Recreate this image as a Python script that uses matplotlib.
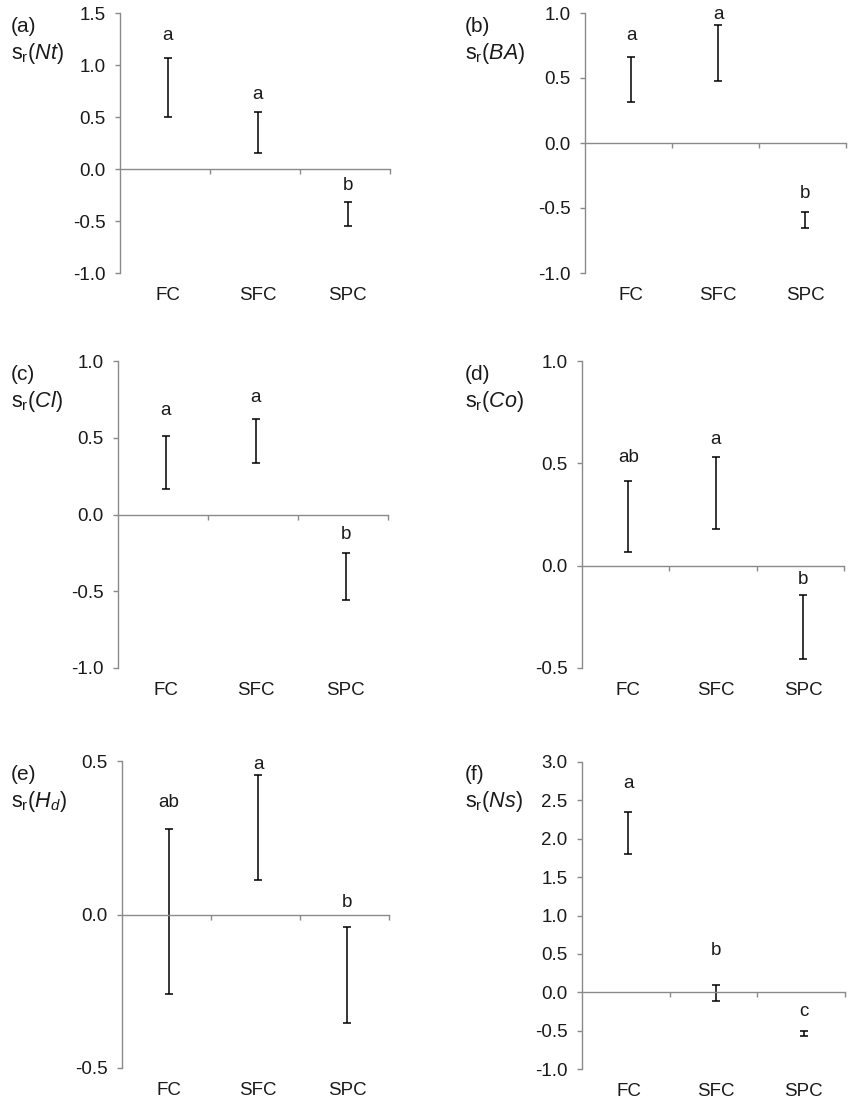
import matplotlib
matplotlib.use('Agg')
import matplotlib.pyplot as plt
import numpy as np

plt.rcParams['font.family'] = ['Liberation Sans', 'DejaVu Sans']
plt.rcParams['mathtext.fontset'] = 'custom'
plt.rcParams['mathtext.rm'] = 'Liberation Sans'
plt.rcParams['mathtext.it'] = 'Liberation Sans:italic'
plt.rcParams['axes.unicode_minus'] = False

# 类别
groups = ['FC', 'SFC', 'SPC']

# 各面板：误差线下限 / 上限，显著性字母及其位置
nt_low = [0.50, 0.15, -0.55]
nt_high = [1.07, 0.55, -0.32]
nt_letters = ['a', 'a', 'b']
nt_letter_y = [1.28, 0.72, -0.16]

ba_low = [0.315, 0.48, -0.65]
ba_high = [0.665, 0.91, -0.53]
ba_letters = ['a', 'a', 'b']
ba_letter_y = [0.83, 0.99, -0.39]

cl_low = [0.167, 0.334, -0.557]
cl_high = [0.51, 0.62, -0.25]
cl_letters = ['a', 'a', 'b']
cl_letter_y = [0.68, 0.76, -0.13]

co_low = [0.068, 0.18, -0.455]
co_high = [0.416, 0.529, -0.142]
co_letters = ['ab', 'a', 'b']
co_letter_y = [0.53, 0.617, -0.07]

hd_low = [-0.259, 0.113, -0.354]
hd_high = [0.28, 0.453, -0.042]
hd_letters = ['ab', 'a', 'b']
hd_letter_y = [0.365, 0.49, 0.04]

ns_low = [1.80, -0.117, -0.564]
ns_high = [2.355, 0.10, -0.50]
ns_letters = ['a', 'b', 'c']
ns_letter_y = [2.72, 0.54, -0.25]

panels = [
    ('(a)', r'$\mathrm{s}_\mathrm{r}\mathrm{(}\mathit{Nt}\mathrm{)}$', nt_low, nt_high, nt_letters, nt_letter_y,
     (-1.0, 1.5), (120, 390, 13, 273)),
    ('(b)', r'$\mathrm{s}_\mathrm{r}\mathrm{(}\mathit{BA}\mathrm{)}$', ba_low, ba_high, ba_letters, ba_letter_y,
     (-1.0, 1.0), (585, 846, 13, 273)),
    ('(c)', r'$\mathrm{s}_\mathrm{r}\mathrm{(}\mathit{Cl}\mathrm{)}$', cl_low, cl_high, cl_letters, cl_letter_y,
     (-1.0, 1.0), (118, 388, 361, 668)),
    ('(d)', r'$\mathrm{s}_\mathrm{r}\mathrm{(}\mathit{Co}\mathrm{)}$', co_low, co_high, co_letters, co_letter_y,
     (-0.5, 1.0), (582, 844, 361, 668)),
    ('(e)', r'$\mathrm{s}_\mathrm{r}\mathrm{(}\mathit{H}_\mathit{d}\mathrm{)}$', hd_low, hd_high, hd_letters, hd_letter_y,
     (-0.5, 0.5), (122, 389, 761, 1068)),
    ('(f)', r'$\mathrm{s}_\mathrm{r}\mathrm{(}\mathit{Ns}\mathrm{)}$', ns_low, ns_high, ns_letters, ns_letter_y,
     (-1.0, 3.0), (582, 845, 762, 1069)),
]

W, H = 849, 1110
fig = plt.figure(figsize=(W / 100, H / 100), dpi=100)
gray = '#8a8a8a'
txt = '#1a1a1a'
fs = 13.5

for tag, name, low, high, letters, letter_y, ylim, box in panels:
    l, r, t, b = box
    ax = fig.add_axes([l / W, 1 - b / H, (r - l) / W, (b - t) / H])
    low = np.array(low)
    high = np.array(high)
    x = np.arange(1, len(groups) + 1)
    mid = (low + high) / 2
    ax.errorbar(x + 0.03, mid, yerr=(high - low) / 2, fmt='none', ecolor='black',
                elinewidth=1.1, capsize=2.6, capthick=1.1)
    for xi, s, yy in zip(x, letters, letter_y):
        ax.text(xi + 0.03, yy, s, ha='center', va='center', fontsize=fs, color=txt)
    ax.set_xlim(0.5, 3.5)
    ax.set_ylim(*ylim)
    ax.set_yticks(np.arange(ylim[0], ylim[1] + 0.01, 0.5))
    ax.yaxis.set_major_formatter(matplotlib.ticker.FormatStrFormatter('%.1f'))
    for sp in ['top', 'right']:
        ax.spines[sp].set_visible(False)
    ax.spines['left'].set_color(gray)
    ax.spines['bottom'].set_color(gray)
    ax.spines['left'].set_linewidth(1.0)
    ax.spines['bottom'].set_linewidth(1.0)
    ax.spines['bottom'].set_position(('data', 0))
    ax.set_xticks(x + 0.5)
    ax.set_xticklabels([])
    ax.tick_params(axis='x', direction='out', length=3.5, color=gray, width=1.0)
    ax.tick_params(axis='y', direction='out', length=3.5, color=gray, width=1.0,
                   labelsize=fs, labelcolor=txt, pad=7)
    for xi, g in zip(x, groups):
        ax.annotate(g, xy=(xi + 0.03, 0), xycoords=ax.get_xaxis_transform(),
                    xytext=(0, -16.5), textcoords='offset points',
                    ha='center', va='center', fontsize=fs, color=txt)
    ax.patch.set_visible(False)
    # 面板标签
    lx = 11 if l < 300 else 465
    fig.text(lx / W, 1 - (t + 13) / H, tag, ha='left', va='center', fontsize=fs + 1.5, color=txt)
    fig.text(lx / W, 1 - (t + 40) / H, name, ha='left', va='center', fontsize=fs + 2, color=txt)

fig.savefig('out.png', dpi=100)
